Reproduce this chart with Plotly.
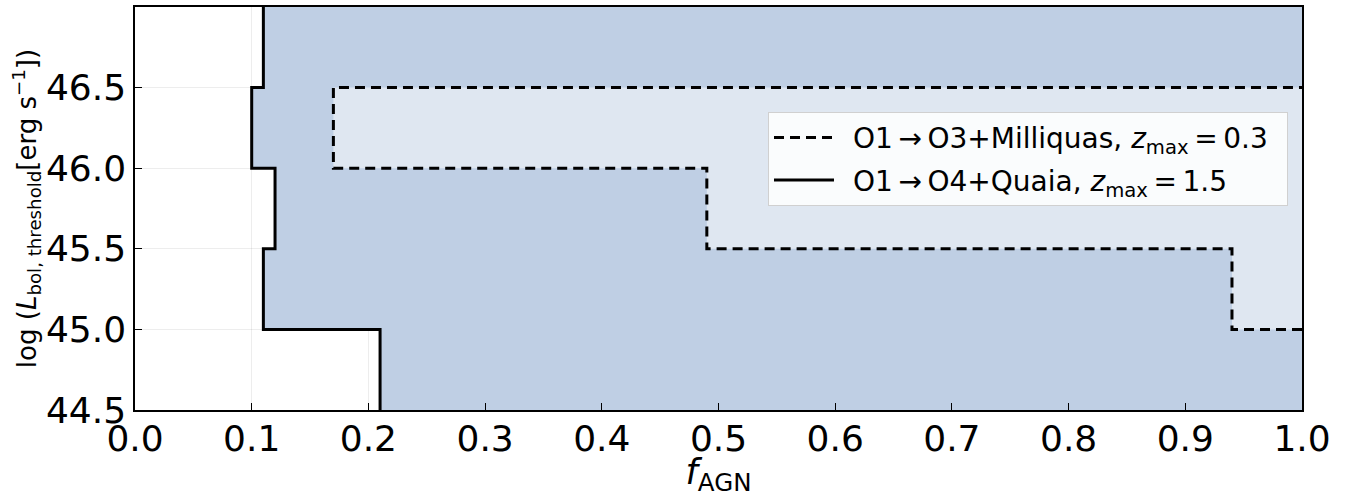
import plotly.graph_objects as go

# Luminosity threshold bin edges (log L_bol)
lum_edges = [44.5, 45.0, 45.5, 46.0, 46.5, 47.0]
# O1 -> O4 + Quaia upper limit on f_AGN per bin
quaia_f = [0.21, 0.11, 0.12, 0.10, 0.11]
# O1 -> O3 + Milliquas upper limit on f_AGN (bins 45.0-46.5 only)
mq_edges = [45.0, 45.5, 46.0, 46.5]
mq_f = [0.94, 0.49, 0.17]

x_ticks = [0.0, 0.1, 0.2, 0.3, 0.4, 0.5, 0.6, 0.7, 0.8, 0.9, 1.0]
y_ticks = [44.5, 45.0, 45.5, 46.0, 46.5]

XMIN, XMAX = 0.0, 1.0
YMIN, YMAX = 44.5, 47.0


def step_path(edges, vals):
    xs, ys = [], []
    for i, v in enumerate(vals):
        xs += [v, v]
        ys += [edges[i], edges[i + 1]]
    return xs, ys


qx, qy = step_path(lum_edges, quaia_f)
mx, my = step_path(mq_edges, mq_f)
mx = [XMAX] + mx + [XMAX]
my = [mq_edges[0]] + my + [mq_edges[-1]]

font = "DejaVu Sans"
T = "\u2009"
E = "\u2002"
fig = go.Figure()

# dark fill: excluded region (Quaia)
fig.add_trace(go.Scatter(
    x=qx + [XMAX, XMAX], y=qy + [YMAX, YMIN], fill="toself",
    fillcolor="#bfcfe4", line=dict(width=0), mode="lines",
    showlegend=False, hoverinfo="skip"))
# light fill: excluded region (Milliquas)
fig.add_trace(go.Scatter(
    x=mx, y=my, fill="toself", fillcolor="#dfe7f1",
    line=dict(width=0), mode="lines", showlegend=False, hoverinfo="skip"))

fig.add_trace(go.Scatter(
    x=mx, y=my, mode="lines", legendgroup="a",
    line=dict(color="black", width=3, dash="10px,6px"),
    name=f"{E}O1{T}→{T}O3+Milliquas, <i>z</i><sub>max</sub>{T}={T}0.3{E}"))
fig.add_trace(go.Scatter(
    x=qx, y=qy, mode="lines", legendgroup="b",
    line=dict(color="black", width=3),
    name=f"{E}O1{T}→{T}O4+Quaia, <i>z</i><sub>max</sub>{T}={T}1.5{E}"))

axis_common = dict(
    showline=True, linecolor="black", linewidth=1.5, mirror=True,
    ticks="inside", ticklen=7, tickwidth=1.2, tickcolor="black",
    showgrid=True, gridcolor="rgba(0,0,0,0.07)", gridwidth=1,
    zeroline=False, layer="above traces",
    tickfont=dict(family=font, size=36, color="black"))

fig.update_xaxes(range=[XMIN, XMAX], tickvals=x_ticks,
                 ticktext=[f"{v:.1f}" for v in x_ticks],
                 ticklabelstandoff=-4,
                 title=dict(text="<i>f</i><sub>AGN</sub>",
                            font=dict(family=font, size=35, color="black"),
                            standoff=5),
                 **axis_common)
fig.update_yaxes(range=[YMIN, YMAX], tickvals=y_ticks,
                 ticktext=[f"{v:.1f}" for v in y_ticks],
                 title=dict(text="log (<i>L</i><sub>bol, threshold</sub>[erg s<sup>−1</sup>])",
                            font=dict(family=font, size=26, color="black"),
                            standoff=2),
                 **axis_common)

fig.update_layout(
    width=1351, height=497,
    margin=dict(l=135, r=49, t=5, b=87),
    plot_bgcolor="white", paper_bgcolor="white",
    font=dict(family=font, color="black"),
    legend=dict(x=0.988, y=0.74, xanchor="right", yanchor="top",
                bgcolor="rgba(255,255,255,0.85)", bordercolor="#d0d0d0",
                borderwidth=1, font=dict(family=font, size=28, color="black"),
                tracegroupgap=3, itemwidth=60),
)

fig.write_html("out.html")
